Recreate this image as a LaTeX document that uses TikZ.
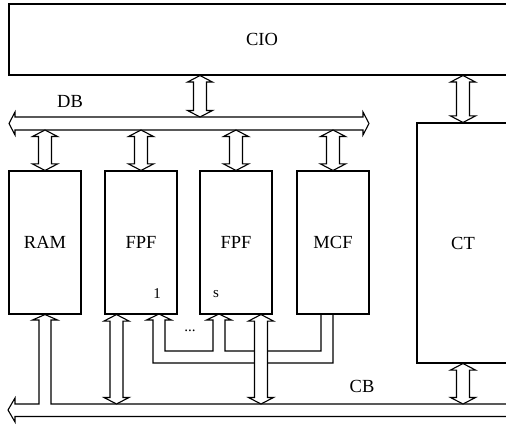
\documentclass[tikz,border=0pt]{standalone}
\usepackage{fontspec}
\setmainfont{Liberation Serif}
\usetikzlibrary{calc}
\newcommand{\updown}[2]{%
  \draw[dbl] let \p1=(#1), \p2=(#2) in
    (\p1) -- ({\x1-12.5pt},{\y1-6.5pt}) -- ({\x1-6.5pt},{\y1-6.5pt})
    -- ({\x1-6.5pt},{\y2+6.5pt}) -- ({\x1-12.5pt},{\y2+6.5pt}) -- (\x1,\y2)
    -- ({\x1+12.5pt},{\y2+6.5pt}) -- ({\x1+6.5pt},{\y2+6.5pt})
    -- ({\x1+6.5pt},{\y1-6.5pt}) -- ({\x1+12.5pt},{\y1-6.5pt}) -- cycle;}
\begin{document}
\begin{tikzpicture}[x=1pt, y=-1pt, line width=1.1pt,
  every node/.style={font=\fontsize{18.5}{20}\selectfont},
  unit/.style={draw, minimum width=72pt, minimum height=143pt, inner sep=0pt},
  dbl/.style={draw, fill=white, line join=miter},
  idx/.style={font=\fontsize{15}{17}\selectfont}]
  \useasboundingbox (0,0) rectangle (506,425);
  \clip (0,0) rectangle (506,425);
  \coordinate (dbT) at (0,117); \coordinate (dbB) at (0,130);
  \coordinate (cbT) at (0,404); \coordinate (cbB) at (0,416.5);
  \node[draw, minimum width=506pt, minimum height=71pt, inner sep=0pt] (cio) at (262,39.5) {CIO};
  \node[unit] (ram) at (45,242.5) {RAM};
  \node[unit] (fpfa) at (141,242.5) {FPF};
  \node[unit] (fpfs) at (236,242.5) {FPF};
  \node[unit] (mcf) at (333,242.5) {MCF};
  \node[draw, minimum width=92pt, minimum height=240pt, inner sep=0pt] (ct) at (463,243) {CT};
  \node[idx] (one) at (157,294) {1};
  \node[idx] (s) at (216,294) {s};
  \node[idx] (dots) at (190,331) {...};
  \node (db) at (70,101) {DB};
  \node (cb) at (362,386) {CB};
  \draw[dbl] (9,123.5) -- (15,112) -- (dbT -| 15,0) -- (dbT -| 363,0) -- (363,112) -- (369,123.5)
    -- (363,135) -- (dbB -| 363,0) -- (dbB -| 15,0) -- (15,135) -- cycle;
  \draw (cbB -| 520,0) -- (cbB -| 15,0) -- (15,422) -- (8,410) -- (15,398) -- (cbT -| 15,0)
    -- (cbT -| 39,0) -- (39,320) -- (32.5,320) -- (ram.south) -- (57.5,320) -- (51,320)
    -- (cbT -| 51,0) -- (cbT -| 520,0);
  \draw (mcf.south -| 321,0) -- (321,351) -- (225,351) -- (225,320) -- (231.5,320) -- (219,314)
    -- (206.5,320) -- (213,320) -- (213,351) -- (165,351) -- (165,320) -- (171.5,320) -- (159,314)
    -- (146.5,320) -- (153,320) -- (153,363) -- (333,363) -- (mcf.south);
  \updown{cio.south -| 200,0}{dbT -| 200,0}
  \updown{cio.south -| ct.north}{ct.north}
  \foreach \m in {ram,fpfa,fpfs,mcf} {\updown{\m.north |- dbB}{\m.north}}
  \updown{fpfa.south -| 116.5,0}{cbT -| 116.5,0}
  \updown{fpfs.south -| 261,0}{cbT -| 261,0}
  \updown{ct.south}{cbT -| ct.south}
\end{tikzpicture}
\end{document}
